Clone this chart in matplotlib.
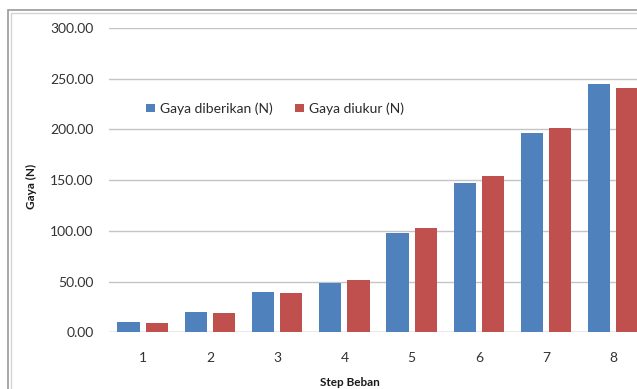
import matplotlib.pyplot as plt
from matplotlib.patches import Rectangle
import numpy as np

steps = [1, 2, 3, 4, 5, 6, 7, 8]
gaya_diberikan = [9.81, 19.62, 39.24, 49.05, 98.10, 147.15, 196.20, 245.25]
gaya_diukur = [9.5, 19.5, 39.0, 51.5, 102.5, 154.0, 201.5, 241.0]
yticks = [0, 50, 100, 150, 200, 250, 300]

plt.rcParams['font.family'] = ['Lato', 'DejaVu Sans']

W, H = 637, 389
fig = plt.figure(figsize=(W / 100, H / 100), dpi=100)

# chart frame (cut off at the right and bottom like the screenshot)
fig.patches.append(Rectangle((8 / W, -0.1), 1.2, (H - 10) / H + 0.1,
                             transform=fig.transFigure, fill=False,
                             edgecolor='#9a9a9a', linewidth=1.2))
fig.patches.append(Rectangle((11 / W, -0.1), 1.2, (H - 13) / H + 0.1,
                             transform=fig.transFigure, fill=False,
                             edgecolor='#d4d4d4', linewidth=1.0))

ax = fig.add_axes([109 / W, (H - 332.3) / H, (W - 109) / W, (332.3 - 28) / H])

x = np.array(steps)
bw = 0.33
off = 0.21
ax.bar(x - off, gaya_diberikan, bw, color='#4F81BD', label='Gaya diberikan (N)', zorder=3)
ax.bar(x + off, gaya_diukur, bw, color='#C0504D', label='Gaya diukur (N)', zorder=3)

ax.set_xlim(0.5, 8.35)
ax.set_ylim(0, 300)
ax.set_yticks(yticks)
ax.set_yticklabels([f'{v:.2f}' for v in yticks])
ax.set_xticks(steps)
ax.set_xticklabels([str(s) for s in steps])

ax.grid(axis='y', color='#c4c4c4', linewidth=1.0, zorder=0)
for s in ax.spines.values():
    s.set_visible(False)
ax.axhline(0, color='#c4c4c4', linewidth=1.0, zorder=1)
ax.tick_params(axis='both', length=0, labelsize=10, colors='#333333')
ax.tick_params(axis='y', pad=11)
ax.tick_params(axis='x', pad=14)

fig.text(31 / W, 1 - 186 / H, 'Gaya (N)', rotation=90, ha='center', va='center',
         fontsize=8.5, fontweight='bold', color='#1a1a1a')
fig.text(350 / W, 1 - 382 / H, 'Step Beban', ha='center', va='center',
         fontsize=8.5, fontweight='bold', color='#1a1a1a')

ax.legend(loc='upper left', bbox_to_anchor=(0.047, 0.797), ncol=2, frameon=False,
          fontsize=10, handlelength=0.6, handleheight=0.6, handletextpad=0.4,
          columnspacing=1.6, labelcolor='#2a2a2a')

fig.savefig('out.png', dpi=100)
